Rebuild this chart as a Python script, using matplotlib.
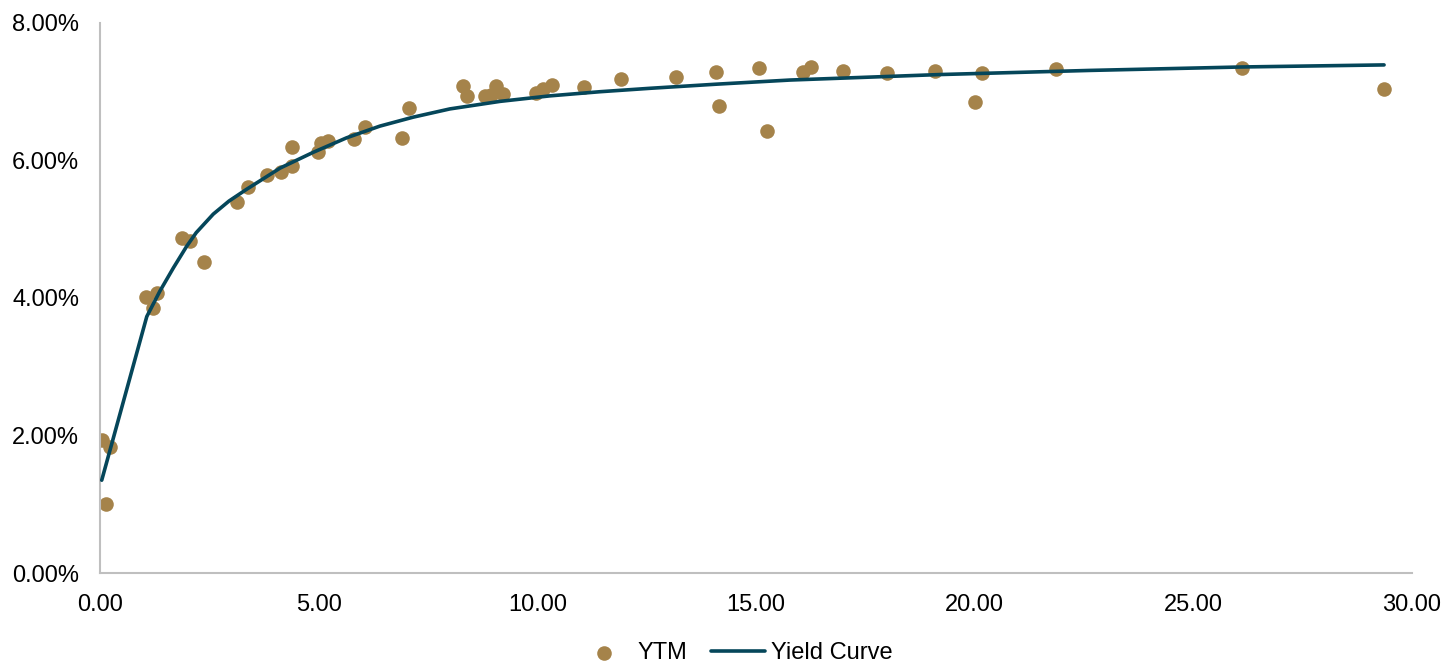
import matplotlib.pyplot as plt
from matplotlib.ticker import FuncFormatter, MultipleLocator

plt.rcParams['font.family'] = ['Liberation Sans', 'DejaVu Sans']

# YTM data points (maturity in years, yield in %)
ytm_x = [0.05, 0.23, 0.14, 1.05, 1.21, 1.30, 1.88, 2.06, 2.38, 3.13, 3.38, 3.82,
         4.14, 4.39, 4.39, 4.98, 5.05, 5.21, 5.81, 6.06, 6.90, 7.07, 8.30, 8.39,
         8.80, 9.06, 8.95, 9.22, 9.97, 10.13, 10.34, 11.07, 11.91, 13.17, 14.09,
         14.15, 15.07, 15.25, 16.08, 16.26, 16.99, 18.00, 19.09, 20.00, 20.17,
         21.86, 26.11, 29.36]
ytm_y = [1.93, 1.84, 1.00, 4.02, 3.85, 4.07, 4.87, 4.83, 4.52, 5.40, 5.61, 5.79,
         5.83, 6.20, 5.92, 6.13, 6.25, 6.28, 6.31, 6.49, 6.33, 6.77, 7.08, 6.94,
         6.94, 7.08, 6.95, 6.97, 6.98, 7.04, 7.10, 7.07, 7.19, 7.21, 7.29,
         6.79, 7.35, 6.43, 7.29, 7.36, 7.30, 7.27, 7.30, 6.85, 7.27,
         7.33, 7.35, 7.04]

# fitted yield curve
curve_x = [0.04, 1.07, 1.37, 1.68, 1.98, 2.20, 2.59, 2.95, 3.35, 4.12, 4.88,
           5.64, 6.40, 7.16, 8.00, 9.15, 10.29, 11.43, 12.58, 14.10, 15.78,
           19.21, 22.64, 26.10, 29.36]
curve_y = [1.35, 3.73, 4.10, 4.44, 4.75, 4.95, 5.22, 5.41, 5.58, 5.89, 6.12,
           6.33, 6.50, 6.63, 6.75, 6.86, 6.94, 7.00, 7.05, 7.11, 7.17,
           7.25, 7.31, 7.36, 7.39]

fig = plt.figure(figsize=(14.49, 6.62), dpi=100)
ax = fig.add_axes([0.069, 0.1344, 0.9055, 0.8309])

ax.scatter(ytm_x, ytm_y, s=110, color='#A5834A', label='YTM', zorder=2,
           linewidths=0)
ax.plot(curve_x, curve_y, color='#05465A', linewidth=2.6, label='Yield Curve',
        zorder=3, solid_capstyle='round', solid_joinstyle='round')

ax.set_xlim(0, 30)
ax.set_ylim(0, 8)
ax.xaxis.set_major_locator(MultipleLocator(5))
ax.yaxis.set_major_locator(MultipleLocator(2))
ax.xaxis.set_major_formatter(FuncFormatter(lambda v, p: '%.2f' % v))
ax.yaxis.set_major_formatter(FuncFormatter(lambda v, p: '%.2f%%' % v))
ax.tick_params(length=0, labelsize=17, labelcolor='#000000')
ax.tick_params(axis='x', pad=15)
ax.tick_params(axis='y', pad=15)

for s in ['top', 'right']:
    ax.spines[s].set_visible(False)
for s in ['left', 'bottom']:
    ax.spines[s].set_color('#BFBFBF')
    ax.spines[s].set_linewidth(1.5)

fig.legend(loc='lower center', bbox_to_anchor=(0.507, -0.035), ncol=2,
           frameon=False, fontsize=17, handlelength=2.3, columnspacing=1.0,
           handletextpad=0.25)

fig.savefig('out.png', dpi=100)
